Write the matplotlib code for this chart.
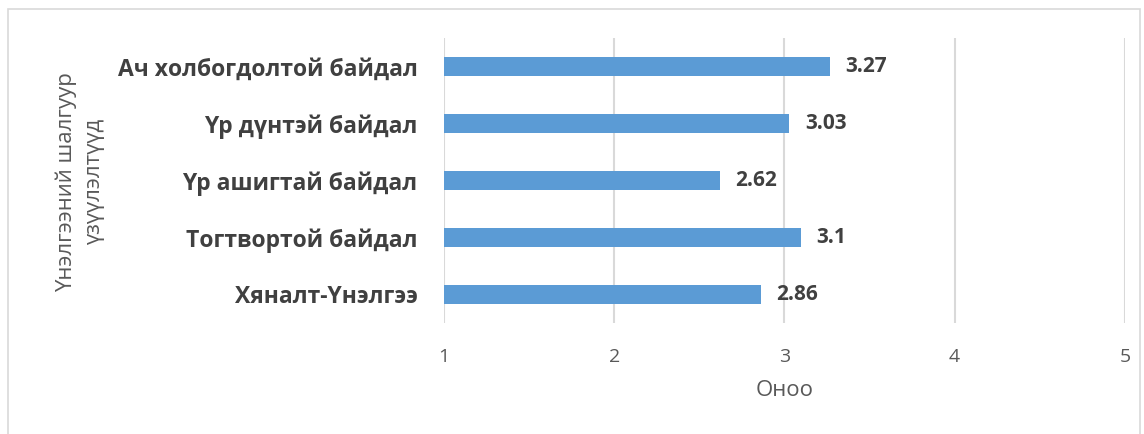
import matplotlib.pyplot as plt
from matplotlib.patches import Rectangle

# Evaluation criteria and their mean scores
criteria = ['Хяналт-Үнэлгээ', 'Тогтвортой байдал', 'Үр ашигтай байдал',
            'Үр дүнтэй байдал', 'Ач холбогдолтой байдал']
scores = [2.86, 3.1, 2.62, 3.03, 3.27]
x_ticks = [1, 2, 3, 4, 5]

plt.rcParams['font.family'] = ['Open Sans', 'DejaVu Sans']

fig = plt.figure(figsize=(11.44, 4.34), dpi=100)
ax = fig.add_axes([0.388, 0.2558, 0.5953, 0.6566])

# light frame around the chart area
fig.patches.append(Rectangle((8 / 1144, -0.05), 1132 / 1144, 1 - 9 / 434 + 0.05,
                             transform=fig.transFigure, fill=False,
                             edgecolor='#D9D9D9', linewidth=1.2))

ypos = range(len(criteria))
ax.barh(ypos, [s - 1 for s in scores], left=1, height=0.35, color='#5B9BD5', zorder=3)

for y, s in zip(ypos, scores):
    ax.annotate(f'{s:g}', xy=(s, y), xytext=(11, 0), textcoords='offset points',
                ha='left', va='center', fontsize=15, fontweight='bold', color='#404040')

ax.set_xlim(1, 5)
ax.set_ylim(-0.5, len(criteria) - 0.5)
ax.set_xticks(x_ticks)
ax.set_yticks(list(ypos))
ax.set_yticklabels(criteria, fontsize=16.5, fontweight='bold', color='#404040')
ax.tick_params(axis='y', length=0, pad=19)
ax.tick_params(axis='x', length=0, pad=18, labelsize=14, labelcolor='#595959')
ax.grid(axis='x', color='#D9D9D9', linewidth=1.5, zorder=0)
for side in ax.spines.values():
    side.set_visible(False)

ax.set_xlabel('Оноо', fontsize=16, color='#595959', labelpad=10)
fig.text(80 / 1144, 1 - 182 / 434, 'Үнэлгээний шалгуур\nүзүүлэлтүүд', rotation=90,
         ha='center', va='center', multialignment='center', fontsize=16,
         color='#595959', linespacing=1.45)

fig.savefig('out.png', dpi=100)
